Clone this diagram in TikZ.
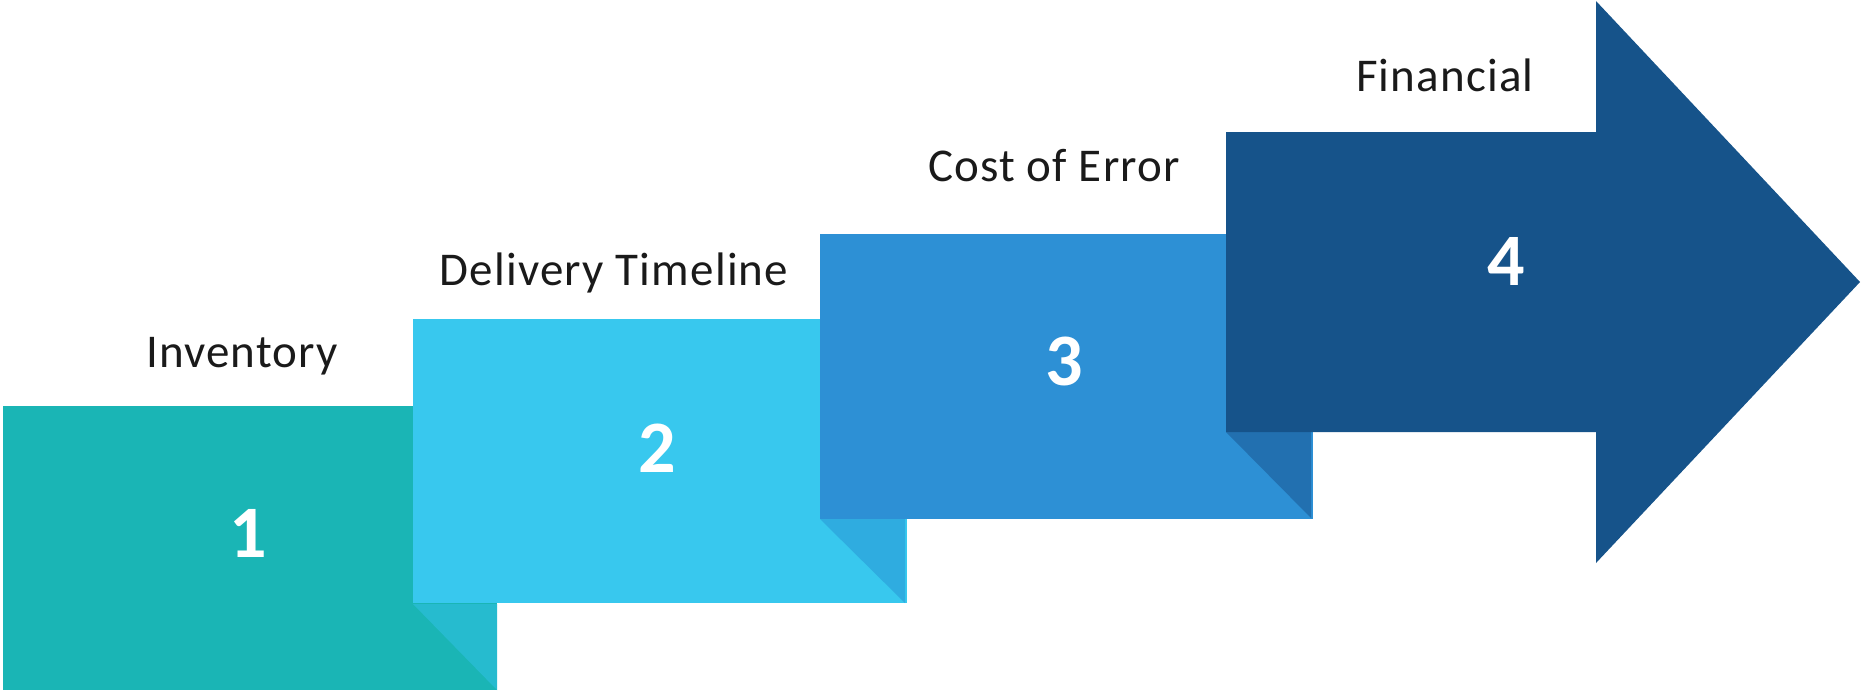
\documentclass[tikz,border=0pt]{standalone}
\usepackage{fontspec}
\setmainfont{Carlito}
\newfontfamily\lblfont[LetterSpace=2.5]{Carlito}
\definecolor{cteal}{HTML}{1AB5B5}
\definecolor{cfoldA}{HTML}{26BBCF}
\definecolor{clight}{HTML}{38C8EE}
\definecolor{cfoldB}{HTML}{2FACE0}
\definecolor{cmid}{HTML}{2D90D5}
\definecolor{cfoldC}{HTML}{2270B0}
\definecolor{cdark}{HTML}{16538A}
\definecolor{ctext}{HTML}{1A1A1A}
\begin{document}
\begin{tikzpicture}[x=0.5pt,y=-0.5pt,
  lbl/.style={text=ctext,font=\lblfont\fontsize{23.5}{28}\selectfont,inner sep=0pt,anchor=base},
  num/.style={text=white,font=\bfseries\fontsize{37}{40}\selectfont,inner sep=0pt}]
\useasboundingbox (0,0) rectangle (1863,692);
% box 1
\fill[cteal] (3,406) rectangle (497,690);
\fill[cfoldA] (413,604) -- (497,604) -- (497,690) -- cycle;
% box 2
\fill[clight] (413,319) rectangle (907,603);
\fill[cfoldB] (820,519) -- (905,519) -- (905,603) -- cycle;
% box 3
\fill[cmid] (820,234) rectangle (1313,519);
\fill[cfoldC] (1226,432) -- (1311,432) -- (1311,518) -- cycle;
% box 4 arrow
\fill[cdark] (1226,132) -- (1596,132) -- (1596,1) -- (1860,282) -- (1596,563) -- (1596,432) -- (1226,432) -- cycle;
% labels
\node[lbl] (l1) at (242,367) {Inventory};
\node[lbl] (l2) at (614,285) {Delivery Timeline};
\node[lbl] (l3) at (1054,181) {Cost of Error};
\node[lbl] (l4) at (1445,91) {Financial};
% numbers
\node[num] (n1) at (248,533) {1};
\node[num] (n2) at (657,448) {2};
\node[num] (n3) at (1064,361) {3};
\node[num] (n4) at (1506,261) {4};
\end{tikzpicture}
\end{document}
